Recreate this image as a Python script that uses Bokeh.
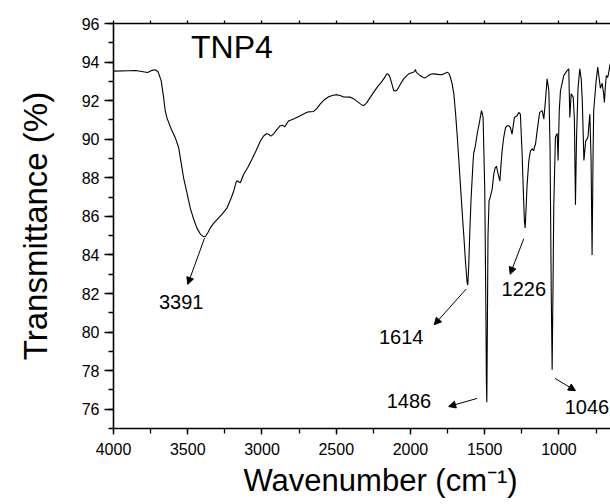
from bokeh.plotting import figure
from bokeh.models import Range1d, LinearAxis, SingleIntervalTicker, FixedTicker, Label, Arrow, NormalHead, Title
from bokeh.embed import file_html
from bokeh.resources import INLINE

# ---- data ----
wavenumber = [4000, 3900, 3850, 3800, 3770, 3740, 3719, 3700, 3679, 3665, 3652, 3640, 3630, 3610,
              3584, 3561, 3545, 3528, 3505, 3483, 3460, 3438, 3415, 3395, 3380, 3365, 3348, 3325,
              3303, 3270, 3236, 3210, 3191, 3175, 3168, 3155, 3146, 3124, 3095, 3068, 3040, 3011,
              2989, 2970, 2955, 2945, 2937, 2922, 2900, 2877, 2860, 2848, 2821, 2780, 2742, 2700,
              2686, 2652, 2630, 2607, 2580, 2551, 2520, 2495, 2470, 2450, 2405, 2380, 2360, 2335,
              2320, 2305, 2293, 2260, 2225, 2200, 2180, 2165, 2158, 2148, 2140, 2128, 2113, 2100,
              2090, 2068, 2046, 2025, 2012, 1990, 1978, 1970, 1967, 1962, 1956, 1935, 1915, 1900,
              1880, 1860, 1844, 1815, 1787, 1765, 1753, 1740, 1731, 1720, 1708, 1697, 1686, 1675,
              1664, 1650, 1640, 1630, 1619, 1614, 1608, 1600, 1592, 1585, 1578, 1574, 1570, 1562,
              1551, 1535, 1522, 1515, 1511, 1500, 1492, 1489, 1486, 1482, 1478, 1471, 1466, 1460,
              1450, 1439, 1430, 1421, 1410, 1398, 1392, 1383, 1372, 1360, 1349, 1338, 1327, 1316,
              1300, 1282, 1271, 1260, 1249, 1240, 1233, 1228, 1222, 1215, 1203, 1192, 1180, 1170,
              1165, 1158, 1147, 1130, 1113, 1102, 1091, 1080, 1068, 1060, 1052, 1046, 1040, 1035,
              1024, 1012, 1006, 998, 990, 968, 945, 934, 927, 918, 904, 896, 889, 882, 872, 860,
              850, 843, 832, 820, 805, 792, 784, 777, 770, 766, 750, 739, 730, 721, 709, 700, 694,
              688, 681, 672, 664, 658, 650]
transmittance = [93.53, 93.55, 93.56, 93.5, 93.46, 93.57, 93.6, 93.5, 93.04, 92.3, 91.5, 91.1, 90.9, 90.5,
                 90.08, 89.56, 88.8, 88.0, 87.2, 86.43, 85.85, 85.39, 85.08, 84.95, 84.97, 85.15, 85.4, 85.65,
                 85.83, 86.1, 86.43, 86.9, 87.3, 87.75, 87.85, 87.78, 87.74, 88.17, 88.55, 88.96, 89.4, 89.91,
                 90.17, 90.28, 90.26, 90.18, 90.17, 90.28, 90.5, 90.7, 90.72, 90.64, 90.95, 91.08, 91.22, 91.38,
                 91.42, 91.44, 91.6, 91.83, 92.05, 92.2, 92.28, 92.31, 92.25, 92.19, 92.18, 92.08, 91.96, 91.82,
                 91.74, 91.8, 91.91, 92.3, 92.69, 92.92, 93.13, 93.32, 93.39, 93.35, 93.25, 92.95, 92.52, 92.5,
                 92.55, 92.85, 93.13, 93.3, 93.39, 93.45, 93.48, 93.55, 93.62, 93.5, 93.44, 93.3, 93.2, 93.18,
                 93.3, 93.38, 93.39, 93.36, 93.35, 93.42, 93.48, 93.4, 93.2, 92.9, 92.35, 91.4, 90.26, 89.0,
                 87.66, 86.0, 84.9, 83.7, 82.6, 82.44, 83.4, 85.3, 86.9, 87.9, 88.9, 89.3, 89.4, 89.7,
                 90.27, 90.9, 91.48, 91.3, 91.1, 87.5, 81.0, 77.5, 76.36, 80.5, 85.0, 86.8, 86.9, 87.1,
                 87.4, 88.2, 88.5, 88.6, 88.2, 87.83, 88.5, 89.4, 90.1, 90.6, 90.7, 90.7, 90.6, 90.26,
                 91.13, 91.22, 91.39, 91.3, 89.4, 87.3, 85.8, 85.4, 86.3, 87.6, 88.88, 89.4, 89.5, 89.4,
                 89.6, 89.74, 90.43, 91.39, 91.48, 91.04, 92.0, 93.13, 92.52, 89.5, 82.0, 78.05, 82.5, 86.5,
                 90.12, 90.3, 88.9, 91.5, 92.5, 93.3, 93.56, 93.65, 91.13, 92.35, 92.17, 91.0, 86.6, 90.0,
                 92.6, 93.65, 93.1, 92.0, 88.9, 89.9, 90.1, 91.3, 89.0, 84.0, 89.5, 91.5, 93.0, 93.74,
                 93.2, 92.64, 92.9, 92.4, 91.9, 92.7, 93.3, 93.2, 93.5, 93.8, 94.0]

peak_labels = ["3391", "1614", "1226", "1486", "1046"]
label_x = [3544, 2063, 1237, 2010, 812]
label_y = [81.57, 79.74, 82.23, 76.44, 76.09]
arrow_start_x = [3387, 1625, 1237, 1551, 1027]
arrow_start_y = [84.87, 82.23, 84.84, 76.56, 77.6]
arrow_end_x = [3500, 1840, 1329, 1743, 889]
arrow_end_y = [82.47, 80.38, 83.0, 76.14, 76.96]

top_ticks = [4000, 3750, 3500, 3250, 3000, 2750, 2500, 2250, 2000, 1750, 1500, 1250, 1000, 750]

FONT = "Liberation Sans"

p = figure(width=610, height=504, output_backend="svg", toolbar_location=None,
           x_range=Range1d(4000, 653), y_range=Range1d(75, 96),
           min_border_left=113, min_border_right=0, min_border_top=23, min_border_bottom=76,
           x_axis_location="below")
p.outline_line_color = None
p.xgrid.visible = False
p.ygrid.visible = False
p.background_fill_color = "white"
p.border_fill_color = "white"

p.line(wavenumber, transmittance, line_color="black", line_width=1.1)

# axes
xa = p.xaxis[0]
xa.ticker = SingleIntervalTicker(interval=500, num_minor_ticks=2)
ya = p.yaxis[0]
ya.ticker = SingleIntervalTicker(interval=2, num_minor_ticks=2)
for ax in (xa, ya):
    ax.axis_line_width = 1.6
    ax.axis_line_color = "black"
    ax.major_tick_line_color = "black"
    ax.minor_tick_line_color = "black"
    ax.major_tick_line_width = 1.3
    ax.minor_tick_line_width = 1.3
    ax.major_label_text_font = FONT
    ax.major_label_text_font_size = "16px"
    ax.major_label_text_color = "black"
    ax.major_tick_in = 0
    ax.minor_tick_in = 0
    ax.axis_label_text_font = FONT
    ax.axis_label_text_font_style = "normal"
    ax.axis_label_text_color = "black"
xa.major_tick_out = 6
xa.minor_tick_out = 5
xa.major_label_standoff = 8
ya.major_tick_out = 9
ya.minor_tick_out = 5
ya.major_label_standoff = 5
ya.axis_label = "Transmittance (%)"
ya.axis_label_text_font_size = "33px"
ya.axis_label_standoff = 25

top = LinearAxis(ticker=FixedTicker(ticks=[], minor_ticks=top_ticks),
                 axis_line_width=1.6, axis_line_color="black",
                 minor_tick_out=3, minor_tick_in=0, minor_tick_line_width=1.3,
                 minor_tick_line_color="black")
p.add_layout(top, "above")

# x axis title, placed like the reference (left part of the frame)
p.add_layout(Title(text="Wavenumber (cm\u207b\u00b9)", text_font=FONT, text_font_size="31px",
                   text_font_style="normal", text_color="black", align="left", offset=130,
                   standoff=7), "below")

# sample name
p.add_layout(Label(x=3478, y=94.8, text="TNP4", text_font=FONT, text_font_size="32px",
                   text_color="black", text_align="left", text_baseline="middle"))

# peak annotations
for t, lx, ly, sx, sy, ex, ey in zip(peak_labels, label_x, label_y, arrow_start_x, arrow_start_y,
                                     arrow_end_x, arrow_end_y):
    p.add_layout(Label(x=lx, y=ly, text=t, text_font=FONT, text_font_size="20px",
                       text_color="black", text_align="center", text_baseline="middle"))
    p.add_layout(Arrow(x_start=sx, y_start=sy, x_end=ex, y_end=ey, line_color="black", line_width=1,
                       end=NormalHead(size=7, fill_color="black", line_color="black")))

open("out.html", "w").write(file_html(p, INLINE))
